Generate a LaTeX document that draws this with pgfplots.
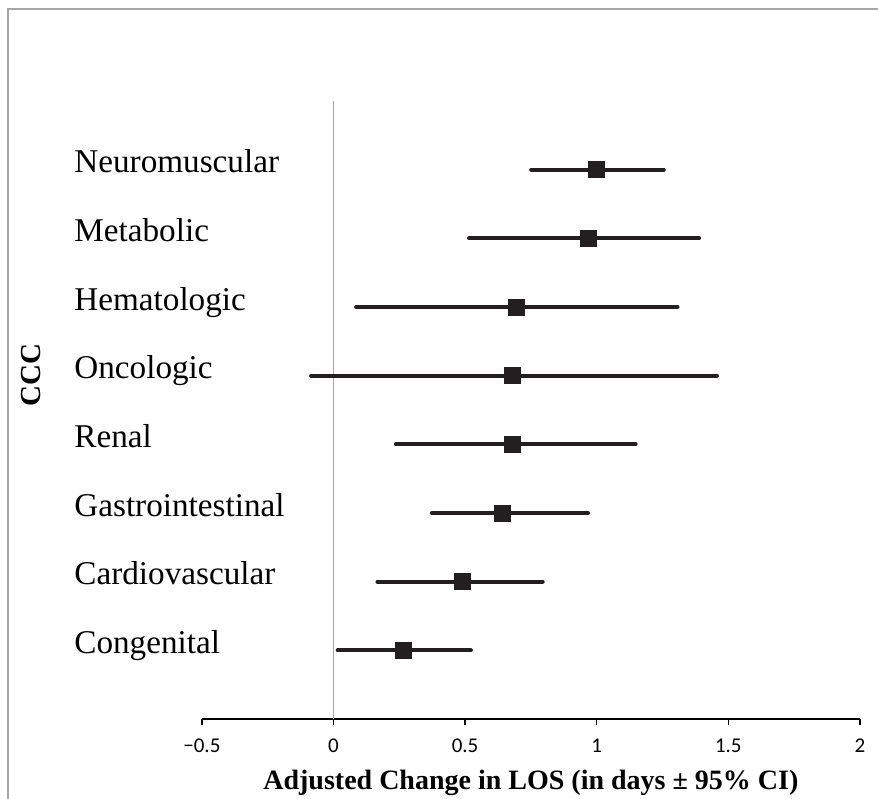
\documentclass[border=0pt]{standalone}
\usepackage{fontspec}
\setmainfont{Liberation Serif}
\newfontfamily\carlito{Carlito}
\usepackage{pgfplots}
\usepackage{pgfplotstable}
\pgfplotsset{compat=1.18}

\definecolor{barcol}{HTML}{231F20}
\definecolor{zerocol}{HTML}{A6A6A6}
\definecolor{framecol}{HTML}{A6A6A6}

% y  mean  lo  hi
\pgfplotstableread{
y m     lo     hi
8 1.00  0.751  1.255
7 0.969 0.515  1.389
6 0.694 0.086  1.307
5 0.680 -0.085 1.457
4 0.680 0.237  1.148
3 0.641 0.374  0.967
2 0.488 0.167  0.795
1 0.266 0.016  0.522
}\ccc

\begin{document}
\begin{tikzpicture}
\begin{axis}[
    at={(0,0)}, anchor=south west,
    scale only axis,
    width=329pt, height=309pt,
    xmin=-0.5, xmax=2, ymin=0, ymax=9,
    axis lines*=left,
    y axis line style={draw=none},
    x axis line style={black, line width=0.75pt},
    xtick={-0.5,0,0.5,1,1.5,2},
    xticklabels={−0.5,0,0.5,1,1.5,2},
    xticklabel style={font=\carlito\fontsize{10.5pt}{12pt}\selectfont, anchor=base, inner sep=0pt, yshift=-13.5pt},
    x tick style={black, line width=0.75pt},
    tick align=outside,
    major tick length=3pt,
    ytick={1,...,8},
    yticklabels={Congenital,Cardiovascular,Gastrointestinal,Renal,Oncologic,Hematologic,Metabolic,Neuromuscular},
    y tick style={draw=none},
    yticklabel style={font=\fontsize{16.6pt}{18pt}\selectfont, anchor=base west, inner sep=0pt, xshift=-60.95pt, yshift=-1.65pt},
    xlabel={\textbf{Adjusted Change in LOS (in days ± 95\% CI)}},
    xlabel style={font=\fontsize{14pt}{16pt}\selectfont, at={(axis description cs:0.5,0)}, anchor=base, yshift=-35pt, inner sep=0pt},
    ylabel={\textbf{CCC}},
    ylabel style={font=\fontsize{14.5pt}{16pt}\selectfont, at={(axis description cs:-0.26,0.557)}, anchor=center, rotate=0},
    clip=false,
]
% zero reference line
\addplot[zerocol, line width=0.75pt, mark=none] coordinates {(0,0) (0,9)};
% confidence intervals
\addplot[only marks, mark=none,
    error bars/.cd, x dir=both, x explicit, error mark=none,
    error bar style={line width=2pt, line cap=round, color=barcol}]
    table[x=m, y=y, x error plus expr=\thisrow{hi}-\thisrow{m}, x error minus expr=\thisrow{m}-\thisrow{lo}] {\ccc};
% point estimates
\addplot[only marks, mark=square*, mark size=4pt, color=barcol] table[x=m, y=y] {\ccc};
\end{axis}
\draw[framecol, line width=0.75pt] (-96.95pt,-60pt) -- (-96.95pt,355pt) -- (400pt,355pt);
\pgfresetboundingbox
\useasboundingbox (-100.95pt,-39.5pt) rectangle (338.05pt,359.5pt);
\end{tikzpicture}
\end{document}
